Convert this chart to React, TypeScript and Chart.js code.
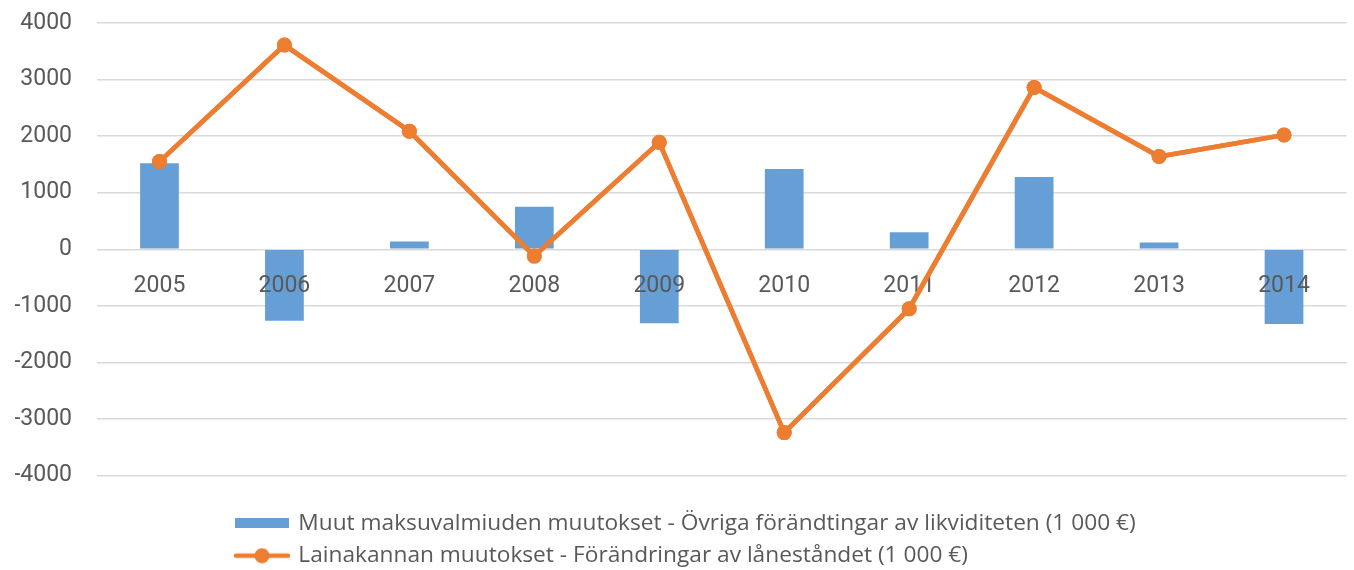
import React, { useEffect, useRef } from 'react';
import { Chart, registerables } from 'chart.js';

Chart.register(...registerables);

const categories = ['2005', '2006', '2007', '2008', '2009', '2010', '2011', '2012', '2013', '2014'];
const otherLiquidityChanges = [1520, -1265, 140, 750, -1305, 1420, 300, 1280, 120, -1320];
const loanStockChanges = [1550, 3610, 2088, -120, 1890, -3240, -1050, 2860, 1640, 2020];
const barLabel = 'Muut maksuvalmiuden muutokset - Övriga förändtingar av likviditeten (1 000 €)';
const lineLabel = 'Lainakannan muutokset - Förändringar av lånest\u00e5ndet (1 000 €)';
const yMin = -4000;
const yMax = 4000;
const yStep = 1000;

const BLUE = '#659fd6';
const ORANGE = '#ed7d31';
const TEXT = '#595959';
const GRID = '#d9d9d9';
const FONT = 'Roboto';
const LEGEND_FONT = 'Open Sans';

function makeBarIcon(): HTMLCanvasElement {
  const c = document.createElement('canvas');
  c.width = 54;
  c.height = 10;
  const ctx = c.getContext('2d')!;
  ctx.fillStyle = BLUE;
  ctx.fillRect(0, 0, 54, 10);
  return c;
}

function makeLineIcon(): HTMLCanvasElement {
  const c = document.createElement('canvas');
  c.width = 58;
  c.height = 16;
  const ctx = c.getContext('2d')!;
  ctx.strokeStyle = ORANGE;
  ctx.lineWidth = 4.5;
  ctx.lineCap = 'round';
  ctx.beginPath();
  ctx.moveTo(3, 8);
  ctx.lineTo(55, 8);
  ctx.stroke();
  ctx.fillStyle = ORANGE;
  ctx.beginPath();
  ctx.arc(29, 8, 7.5, 0, Math.PI * 2);
  ctx.fill();
  return c;
}

export default function App() {
  const ref = useRef<HTMLCanvasElement | null>(null);

  useEffect(() => {
    if (!ref.current) return;
    const barIcon = makeBarIcon();
    const lineIcon = makeLineIcon();

    const legendPlace = {
      id: 'legendPlace',
      beforeDraw(chart: any) {
        const lg = chart.legend;
        if (!lg) return;
        const pad = lg.options.labels.padding;
        lg.left = 237 - pad;
        lg.right = chart.width;
        lg.top = chart.chartArea.bottom + 27;
        lg.bottom = chart.height;
      },
    };

    const lineOnTop = {
      id: 'lineOnTop',
      afterDraw(chart: any) {
        const meta = chart.getDatasetMeta(1);
        if (meta && meta.controller) {
          const ctx = chart.ctx;
          ctx.save();
          meta.controller.draw();
          ctx.restore();
        }
      },
    };

    const chart = new Chart(ref.current, {
      type: 'bar',
      data: {
        labels: categories,
        datasets: [
          {
            type: 'bar',
            label: barLabel,
            data: otherLiquidityChanges,
            backgroundColor: BLUE,
            borderWidth: 0,
            barPercentage: 0.31,
            categoryPercentage: 1,
            order: 1,
          },
          {
            type: 'line',
            label: lineLabel,
            data: loanStockChanges,
            borderColor: ORANGE,
            backgroundColor: ORANGE,
            borderWidth: 4.7,
            pointRadius: 7.5,
            pointHoverRadius: 7.5,
            pointBackgroundColor: ORANGE,
            pointBorderWidth: 0,
            tension: 0,
            order: 0,
          } as any,
        ],
      },
      options: {
        animation: false,
        responsive: true,
        maintainAspectRatio: false,
        layout: { padding: { top: 23, right: -1, left: 15, bottom: 20 } },
        scales: {
          x: {
            position: { y: 0 } as any,
            offset: true,
            grid: { display: false, drawTicks: false },
            border: { display: false },
            ticks: {
              color: TEXT,
              font: { family: FONT, size: 23 },
              padding: 23,
              z: 1,
            },
            afterFit: (s: any) => {
              s.paddingLeft = 0;
              s.paddingRight = 0;
            },
          },
          y: {
            min: yMin,
            max: yMax,
            grid: { color: GRID, lineWidth: 1.5, drawTicks: false },
            border: { display: false },
            ticks: {
              stepSize: yStep,
              color: TEXT,
              font: { family: FONT, size: 23 },
              padding: 25,
              callback: (v: any) => String(v),
            },
            afterFit: (s: any) => {
              s.paddingTop = 0;
              s.paddingBottom = 0;
              s.width = 82;
            },
          },
        },
        plugins: {
          tooltip: { enabled: false },
          legend: {
            position: 'bottom',
            align: 'start',
            labels: {
              color: TEXT,
              font: { family: LEGEND_FONT, size: 22.7 },
              padding: 9.5,
              usePointStyle: true,
              pointStyleWidth: 50,
              boxHeight: 16,
              generateLabels: () => [
                {
                  text: barLabel,
                  fillStyle: BLUE,
                  strokeStyle: BLUE,
                  lineWidth: 0,
                  pointStyle: barIcon as any,
                  datasetIndex: 0,
                  hidden: false,
                  fontColor: TEXT,
                },
                {
                  text: lineLabel,
                  fillStyle: ORANGE,
                  strokeStyle: ORANGE,
                  lineWidth: 0,
                  pointStyle: lineIcon as any,
                  datasetIndex: 1,
                  hidden: false,
                  fontColor: TEXT,
                },
              ],
            },
          },
        },
      },
      plugins: [legendPlace, lineOnTop],
    });

    return () => chart.destroy();
  }, []);

  return (
    <div style={{ position: 'fixed', left: 0, top: 0, width: 1354, height: 570, background: '#fff' }}>
      <canvas ref={ref} />
    </div>
  );
}
